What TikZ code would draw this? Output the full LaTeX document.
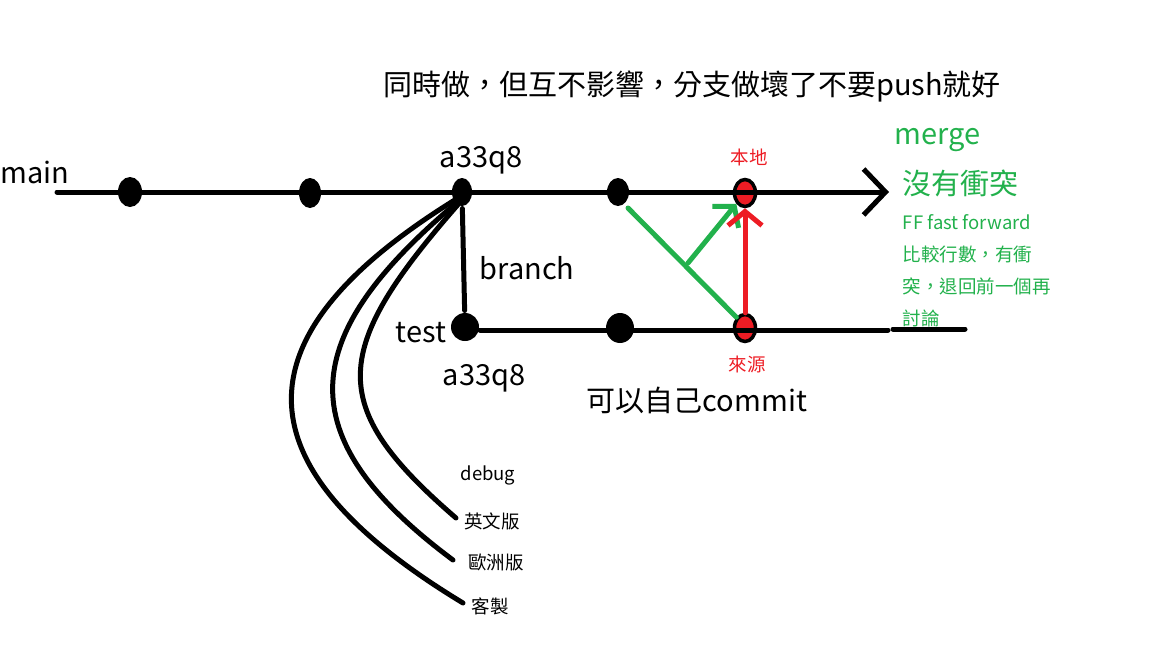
\documentclass[tikz,border=0pt]{standalone}
\usepackage{fontspec}
\setmainfont{Noto Sans CJK TC}
\usetikzlibrary{positioning}
\usetikzlibrary{shapes.geometric,arrows.meta}
\definecolor{vert}{RGB}{34,177,76}
\definecolor{rouge}{RGB}{237,28,36}

\begin{document}
\begin{tikzpicture}[x=1pt, y=-1pt, line width=5pt, line cap=round,
  pt/.style={ellipse, fill=black, inner sep=0pt, minimum width=24pt, minimum height=30pt},
  ptrouge/.style={ellipse, draw=black, line width=3.5pt, fill=rouge, inner sep=0pt, minimum width=21pt, minimum height=27pt},
  grand/.style={font=\fontsize{29}{33}\selectfont},
  petit/.style={font=\fontsize{18.5}{22}\selectfont},
  pointe/.style={-{Straight Barb[length=14pt,width=34pt]}}]
\useasboundingbox (0,0) rectangle (1152,648);

% Titre
\node[font=\fontsize{29}{33}\selectfont] (titre) at (692,86) {同時做，但互不影響，分支做壞了不要push就好};

% Branche main
\node[grand] (main) at (35,172) {main};
\node[pt] (m1) at (130,192) {};
\node[pt, minimum width=22pt] (m2) at (310,193) {};
\node[pt, minimum width=20pt, minimum height=28pt] (m3) at (462,192) {};
\node[pt, minimum width=22pt, minimum height=28pt] (m4) at (618,192) {};
\node[ptrouge] (m5) at (745,193) {};
\node[grand] (h1) at (481,160) {a33q8};
\node[petit, text=rouge] (local) at (749,157) {本地};
\coordinate (dep) at (57,192);
\coordinate (fin) at (889,192);

% Branche test
\node[pt, minimum width=28pt, minimum height=28pt] (t1) at (465,327) {};
\node[pt, minimum width=28pt, minimum height=30pt] (t2) at (620,328) {};
\node[ptrouge] (t3) at (745,328) {};
\node[grand] (test) at (421,333) {test};
\node[grand] (h2) at (484,378) {a33q8};
\node[grand] (branch) at (527,268) {branch};
\node[grand] (commit) at (697,400) {可以自己commit};
\node[petit, text=rouge] (source) at (747,364) {來源};
\coordinate (tdep) at (480,330);
\coordinate (tfin) at (888,330);
\coordinate (s1) at (893,329);
\coordinate (s2) at (965,329);

% Merge
\node[grand, text=vert, anchor=west] (merge) at (889,140) {merge};
\node[grand, text=vert, anchor=west] (conflit) at (897,183) {沒有衝突};
\node[petit, text=vert, anchor=west] (ff) at (897,222) {FF fast forward};
\node[petit, text=vert, anchor=west] (n1) at (897,254) {比較行數，有衝};
\node[petit, text=vert, anchor=west] (n2) at (897,286) {突，退回前一個再};
\node[petit, text=vert, anchor=west] (n3) at (897,318) {討論};

% Versions
\node[petit] (debug) at (488,475) {debug};
\node[petit] (v1) at (492,521) {英文版};
\node[petit] (v2) at (496,563) {歐洲版};
\node[petit] (v3) at (490,606) {客製};
\coordinate (c1) at (456,518);
\coordinate (c2) at (453,560);
\coordinate (c3) at (463,603);

% Lignes
\draw[-{Straight Barb[length=22pt,width=46pt]}] (dep) -- (fin);
\draw (m3) -- (t1);
\draw (tdep) -- (tfin);
\draw (s1) -- (s2);

% Fleches de merge
\coordinate (g1) at (628,208);
\coordinate (g2) at (688,263);
\draw[vert] (g1) -- (t3.north west);
\draw[vert, pointe] (g2) -- (m5.south west);
\draw[rouge, pointe] (t3.north) -- (m5.south);

% Courbes vers les versions
\draw (462,200) .. controls (330,350) and (325,405) .. (c1);
\draw (460,200) .. controls (298,335) and (285,435) .. (c2);
\draw (458,198) .. controls (235,335) and (235,465) .. (c3);
\end{tikzpicture}
\end{document}
